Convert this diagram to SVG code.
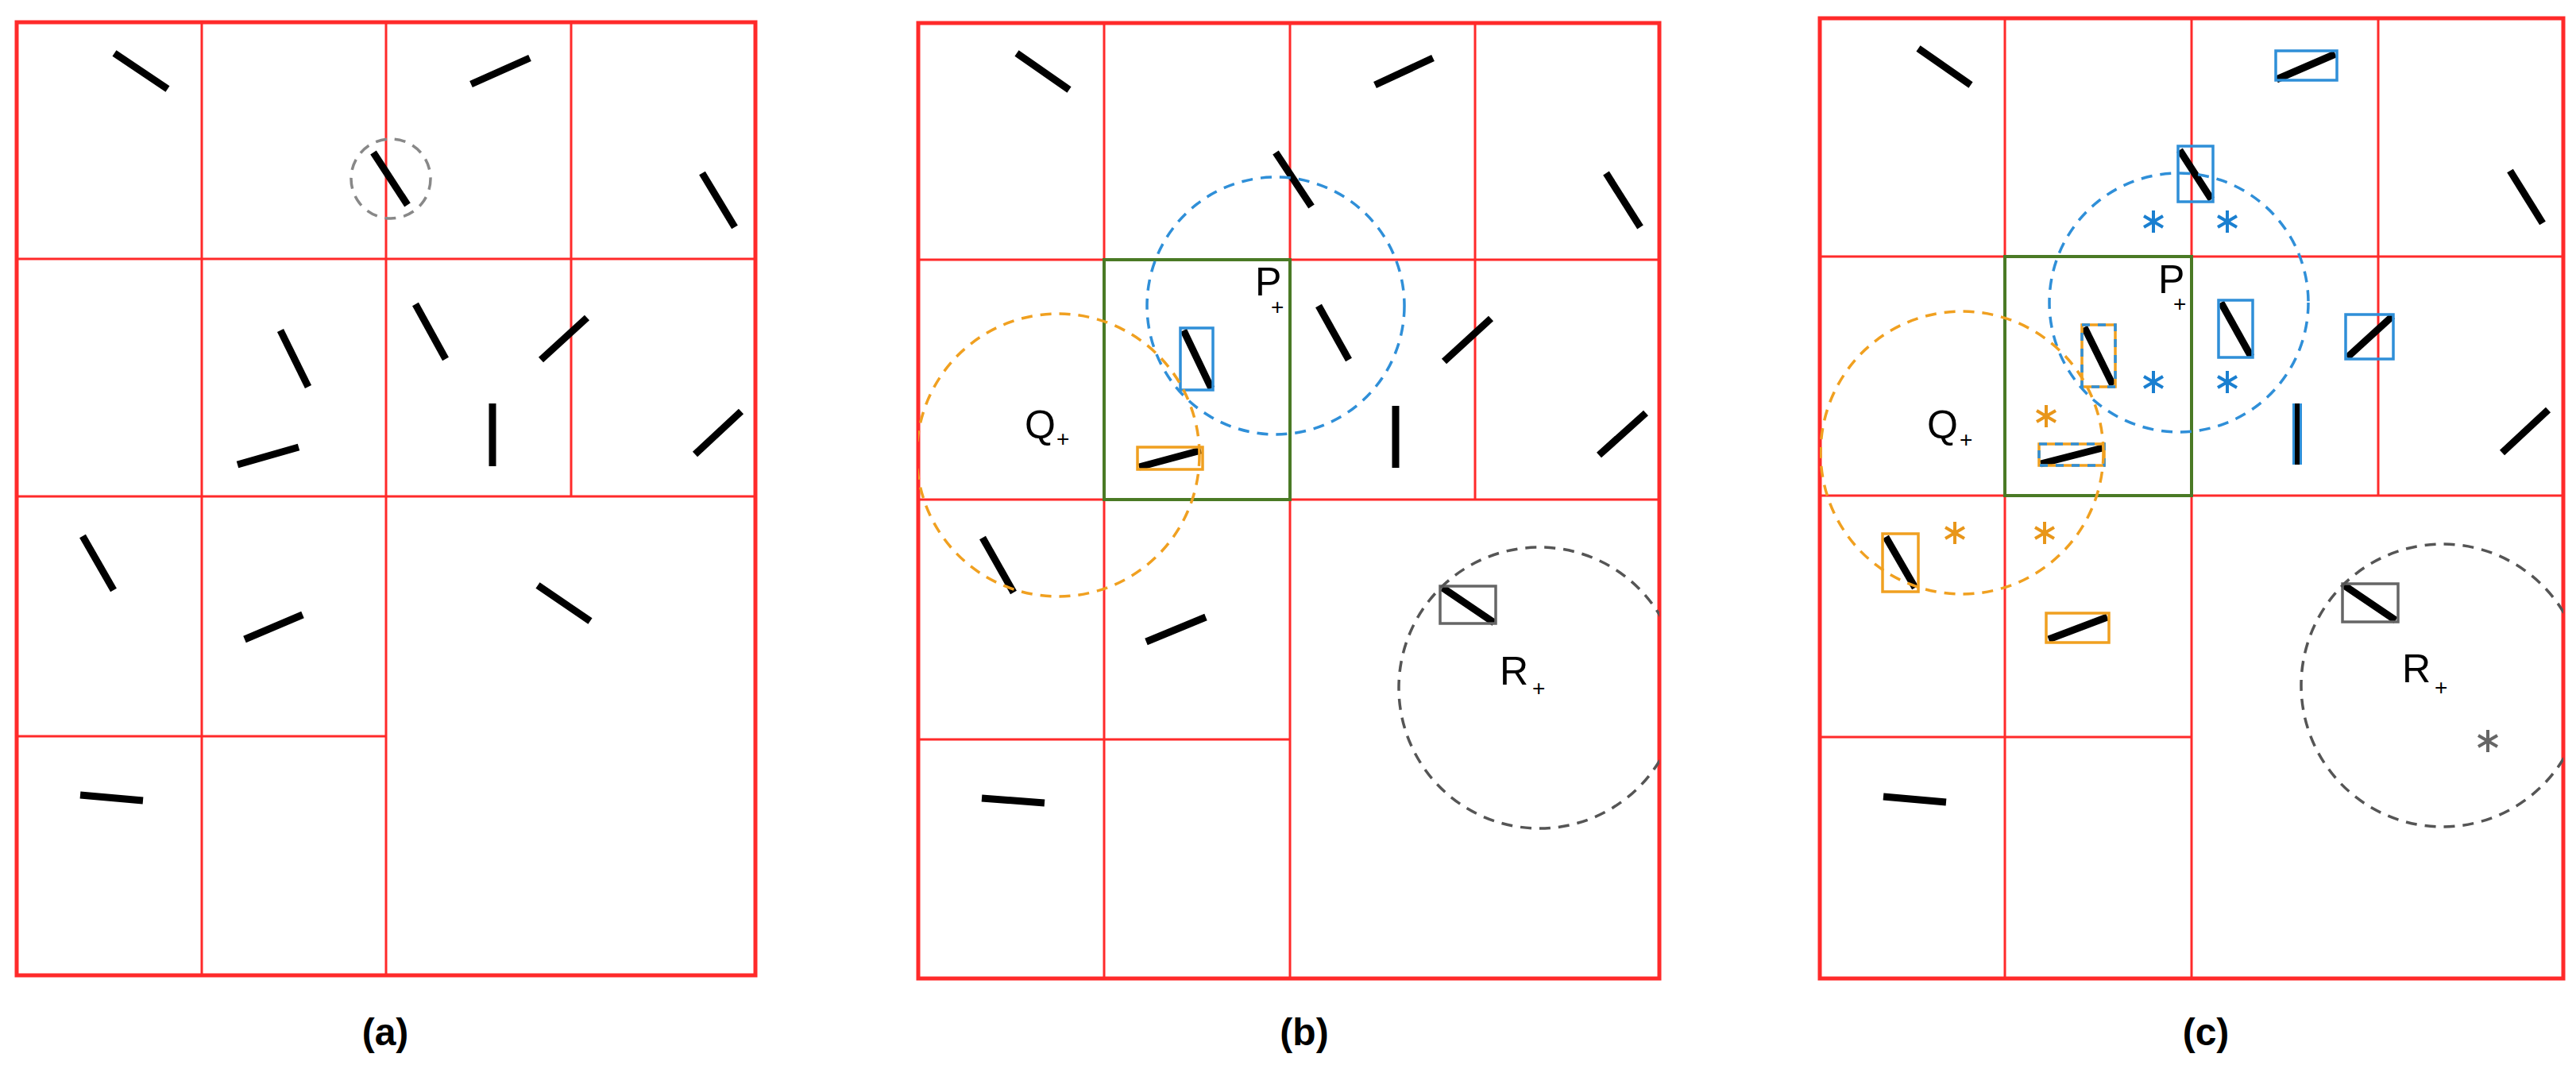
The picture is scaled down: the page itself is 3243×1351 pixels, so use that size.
<svg xmlns="http://www.w3.org/2000/svg" width="3243" height="1351" viewBox="0 0 3243 1351">
<style>
.g{fill:none;stroke:#ff2a2a;stroke-width:3}
.o{fill:none;stroke:#ff2a2a;stroke-width:5}
.gr{fill:none;stroke:#4a7a25;stroke-width:4}
.s{stroke:#000;stroke-width:9}
.bb{fill:none;stroke:#2f8fd8;stroke-width:3.5}
.ob{fill:none;stroke:#f0a020;stroke-width:3.5}
.kb{fill:none;stroke:#666;stroke-width:3.5}
.dc{fill:none;stroke-width:3.5;stroke-dasharray:14 10}
.lab{font-family:"Liberation Sans",Arial,sans-serif;font-size:50px;fill:#000}
.pl{font-family:"Liberation Sans",Arial,sans-serif;font-size:28px;fill:#000}
.cap{font-family:"Liberation Sans",Arial,sans-serif;font-size:48px;font-weight:bold;fill:#000;text-anchor:middle}
</style>
<defs>
<g id="star"><line x1="0" y1="-14" x2="0" y2="14"/><line x1="-12" y1="-7" x2="12" y2="7"/><line x1="-12" y1="7" x2="12" y2="-7"/></g>
<clipPath id="cb"><rect x="1156" y="29" width="933" height="1203"/></clipPath>
<clipPath id="cc"><rect x="2291" y="23" width="936" height="1209"/></clipPath>
</defs>

<g id="panel-a">
<g class="g">
<line x1="21" y1="326" x2="951" y2="326"/><line x1="21" y1="625" x2="951" y2="625"/><line x1="21" y1="927" x2="486" y2="927"/>
<line x1="254" y1="28" x2="254" y2="1228"/><line x1="486" y1="28" x2="486" y2="1228"/><line x1="719" y1="28" x2="719" y2="625"/>
</g>
<rect class="o" x="21" y="28" width="930" height="1200"/>
<g class="s">
<line x1="144" y1="67" x2="211" y2="112"/><line x1="593" y1="106" x2="667" y2="73"/><line x1="470" y1="192" x2="513" y2="258"/>
<line x1="884" y1="218" x2="925" y2="286"/><line x1="353" y1="416" x2="388" y2="487"/><line x1="523" y1="383" x2="561" y2="452"/>
<line x1="681" y1="453" x2="739" y2="400"/><line x1="299" y1="585" x2="376" y2="563"/><line x1="620" y1="508" x2="620" y2="587"/>
<line x1="875" y1="572" x2="933" y2="518"/><line x1="104" y1="675" x2="143" y2="743"/><line x1="308" y1="805" x2="381" y2="774"/>
<line x1="677" y1="737" x2="743" y2="782"/><line x1="101" y1="1001" x2="180" y2="1008"/>
</g>
<circle class="dc" stroke="#888" cx="492" cy="225" r="50"/>
<text class="cap" x="485" y="1316">(a)</text>
</g>

<g id="panel-b">
<g class="g">
<line x1="1156" y1="327" x2="2089" y2="327"/><line x1="1156" y1="629" x2="2089" y2="629"/><line x1="1156" y1="931" x2="1624" y2="931"/>
<line x1="1390" y1="29" x2="1390" y2="1232"/><line x1="1624" y1="29" x2="1624" y2="1232"/><line x1="1857" y1="29" x2="1857" y2="629"/>
</g>
<rect class="o" x="1156" y="29" width="933" height="1203"/>
<rect class="gr" x="1390" y="327" width="234" height="302"/>
<g class="s">
<line x1="1280" y1="67" x2="1346" y2="113"/><line x1="1731" y1="107" x2="1804" y2="73"/><line x1="1606" y1="192" x2="1651" y2="260"/>
<line x1="2022" y1="218" x2="2065" y2="286"/><line x1="1660" y1="385" x2="1698" y2="453"/><line x1="1818" y1="455" x2="1877" y2="401"/>
<line x1="1757" y1="511" x2="1757" y2="589"/><line x1="2013" y1="573" x2="2072" y2="520"/><line x1="1490" y1="416" x2="1525" y2="489"/>
<line x1="1434" y1="588" x2="1512" y2="567"/><line x1="1237" y1="677" x2="1276" y2="746"/><line x1="1443" y1="808" x2="1518" y2="777"/>
<line x1="1236" y1="1005" x2="1315" y2="1011"/><line x1="1816" y1="740" x2="1881" y2="784"/>
</g>
<rect class="bb" x="1486" y="413" width="41" height="78"/>
<rect class="ob" x="1432" y="563" width="82" height="28"/>
<rect class="kb" x="1813" y="738" width="70" height="47"/>
<g clip-path="url(#cb)">
<circle class="dc" stroke="#2f8fd8" cx="1606" cy="385" r="162"/>
<circle class="dc" stroke="#f0a020" cx="1332" cy="573" r="178"/>
<circle class="dc" stroke="#555" cx="1938" cy="866" r="177"/>
</g>
<text class="lab" x="1580" y="372">P</text><text class="pl" x="1600" y="396">+</text>
<text class="lab" x="1290" y="552">Q</text><text class="pl" x="1330" y="562">+</text>
<text class="lab" x="1888" y="862">R</text><text class="pl" x="1929" y="876">+</text>
<text class="cap" x="1642" y="1316">(b)</text>
</g>

<g id="panel-c">
<g class="g">
<line x1="2291" y1="323" x2="3227" y2="323"/><line x1="2291" y1="624" x2="3227" y2="624"/><line x1="2291" y1="928" x2="2759" y2="928"/>
<line x1="2524" y1="23" x2="2524" y2="1232"/><line x1="2759" y1="23" x2="2759" y2="1232"/><line x1="2994" y1="23" x2="2994" y2="624"/>
</g>
<rect class="o" x="2291" y="23" width="936" height="1209"/>
<rect class="gr" x="2524" y="323" width="235" height="301"/>
<line x1="2892" y1="508" x2="2892" y2="585" stroke="#2f8fd8" stroke-width="12"/>
<g class="s">
<line x1="2415" y1="61" x2="2481" y2="107"/><line x1="2866" y1="100" x2="2940" y2="68"/><line x1="2744" y1="189" x2="2784" y2="251"/>
<line x1="3160" y1="215" x2="3201" y2="281"/><line x1="2796" y1="381" x2="2834" y2="449"/><line x1="2955" y1="450" x2="3012" y2="398"/>
<line x1="2892" y1="508" x2="2892" y2="585" stroke-width="6"/><line x1="3150" y1="570" x2="3208" y2="516"/>
<line x1="2624" y1="412" x2="2660" y2="485"/><line x1="2569" y1="584" x2="2647" y2="564"/><line x1="2374" y1="676" x2="2411" y2="740"/>
<line x1="2579" y1="805" x2="2653" y2="777"/><line x1="2371" y1="1003" x2="2450" y2="1010"/><line x1="2951" y1="737" x2="3016" y2="781"/>
</g>
<rect class="bb" x="2865" y="64" width="77" height="37"/>
<rect class="bb" x="2742" y="184" width="44" height="70"/>
<rect class="bb" x="2793" y="378" width="43" height="72"/>
<rect class="bb" x="2953" y="396" width="60" height="56"/>
<rect class="ob" x="2621" y="409" width="42" height="78"/>
<rect class="bb" x="2621" y="409" width="42" height="78" stroke-dasharray="10 10"/>
<rect class="ob" x="2567" y="559" width="82" height="27"/>
<rect class="bb" x="2567" y="559" width="82" height="27" stroke-dasharray="10 10"/>
<rect class="ob" x="2370" y="672" width="45" height="73"/>
<rect class="ob" x="2576" y="772" width="79" height="37"/>
<rect class="kb" x="2949" y="735" width="70" height="48"/>
<g clip-path="url(#cc)">
<circle class="dc" stroke="#2f8fd8" cx="2743" cy="381" r="163"/>
<circle class="dc" stroke="#f0a020" cx="2470" cy="570" r="178"/>
<circle class="dc" stroke="#555" cx="3075" cy="863" r="178"/>
</g>
<g stroke="#1a7fd0" stroke-width="4">
<use href="#star" x="2711" y="279"/><use href="#star" x="2804" y="279"/><use href="#star" x="2711" y="481"/><use href="#star" x="2804" y="481"/>
</g>
<g stroke="#e8961a" stroke-width="4">
<use href="#star" x="2576" y="524"/><use href="#star" x="2461" y="671"/><use href="#star" x="2574" y="671"/>
</g>
<g stroke="#666" stroke-width="4"><use href="#star" x="3132" y="933"/></g>
<text class="lab" x="2717" y="369">P</text><text class="pl" x="2736" y="392">+</text>
<text class="lab" x="2426" y="552">Q</text><text class="pl" x="2467" y="563">+</text>
<text class="lab" x="3024" y="859">R</text><text class="pl" x="3065" y="875">+</text>
<text class="cap" x="2777" y="1316">(c)</text>
</g>
</svg>
